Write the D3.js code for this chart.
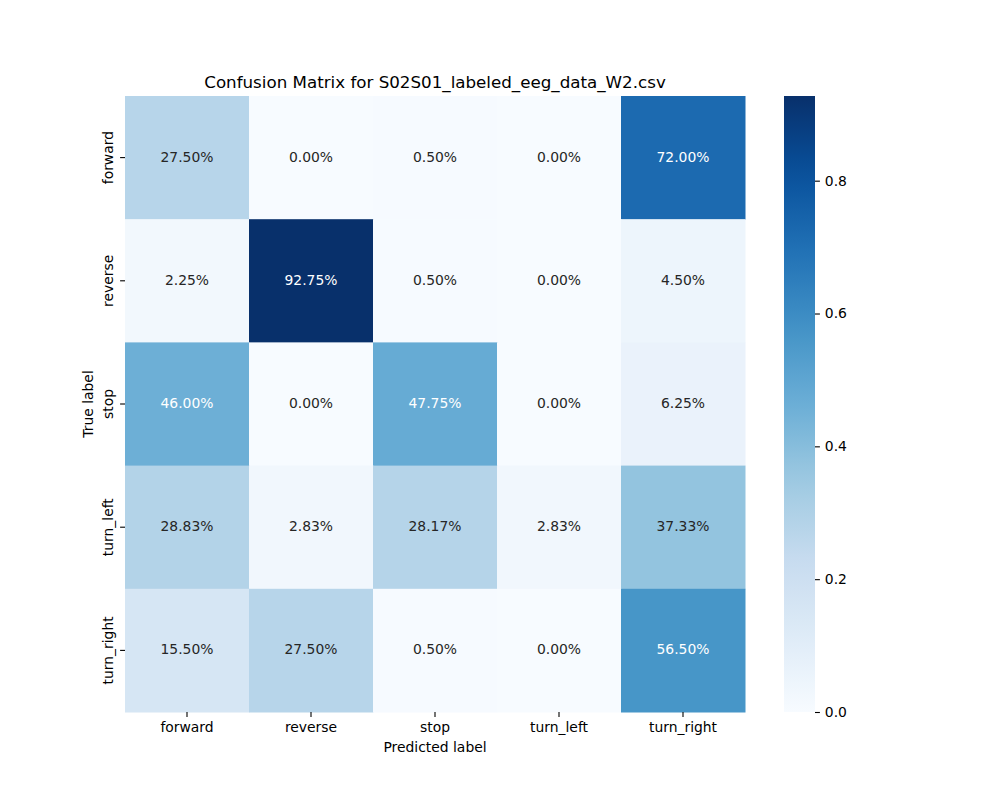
<!DOCTYPE html>
<html lang="en">
<head>
    <meta charset="UTF-8">
    <title>Confusion Matrix</title>
    <script src="https://d3js.org/d3.v7.min.js"></script>
    <style>
        body { margin: 0; background: white; }
        text { font-family: 'DejaVu Sans', sans-serif; fill: #000; }
    </style>
</head>
<body>
<script>
    const width = 1000;
    const height = 800;

    // categories (rows = true label, cols = predicted label)
    const labels = ['forward', 'reverse', 'stop', 'turn_left', 'turn_right'];

    // row-normalised values, percent
    const forwardRow   = [27.50, 0.00, 0.50, 0.00, 72.00];
    const reverseRow   = [2.25, 92.75, 0.50, 0.00, 4.50];
    const stopRow      = [46.00, 0.00, 47.75, 0.00, 6.25];
    const turnLeftRow  = [28.83, 2.83, 28.17, 2.83, 37.33];
    const turnRightRow = [15.50, 27.50, 0.50, 0.00, 56.50];
    const rows = [forwardRow, reverseRow, stopRow, turnLeftRow, turnRightRow];

    const cbarTicks = [0.0, 0.2, 0.4, 0.6, 0.8];
    const title = 'Confusion Matrix for S02S01_labeled_eeg_data_W2.csv';

    const cells = [];
    rows.forEach((r, i) => r.forEach((v, j) => cells.push({row: labels[i], col: labels[j], v: v / 100})));
    const vmax = d3.max(cells, d => d.v);

    // matplotlib "Blues"
    const blues = ['#f7fbff', '#deebf7', '#c6dbef', '#9ecae1', '#6baed6', '#4292c6', '#2171b5', '#08519c', '#08306b'];
    const color = d3.scaleLinear()
        .domain(blues.map((c, i) => i / (blues.length - 1) * vmax))
        .range(blues)
        .interpolate(d3.interpolateRgb)
        .clamp(true);

    const pL = 125, pR = 745, pT = 96, pB = 712;
    const x = d3.scaleBand().domain(labels).range([pL, pR]);
    const y = d3.scaleBand().domain(labels).range([pT, pB]);

    function luminance(c) {
        const rgb = d3.rgb(c);
        const f = u => { u /= 255; return u <= 0.03928 ? u / 12.92 : Math.pow((u + 0.055) / 1.055, 2.4); };
        return 0.2126 * f(rgb.r) + 0.7152 * f(rgb.g) + 0.0722 * f(rgb.b);
    }

    const svg = d3.select('body').append('svg').attr('width', width).attr('height', height);

    svg.append('g').selectAll('rect')
        .data(cells)
        .join('rect')
        .attr('x', d => x(d.col))
        .attr('y', d => y(d.row))
        .attr('width', x.bandwidth() + 0.5)
        .attr('height', y.bandwidth() + 0.5)
        .attr('fill', d => color(d.v));

    svg.append('g').selectAll('text')
        .data(cells)
        .join('text')
        .attr('x', d => x(d.col) + x.bandwidth() / 2)
        .attr('y', d => y(d.row) + y.bandwidth() / 2 - 1)
        .attr('text-anchor', 'middle')
        .attr('dominant-baseline', 'central')
        .style('font-size', '13.9px')
        .style('fill', d => luminance(color(d.v)) > 0.408 ? '#262626' : '#ffffff')
        .text(d => (d.v * 100).toFixed(2) + '%');

    // axes
    const xAxis = svg.append('g')
        .attr('transform', `translate(0,${pB})`)
        .call(d3.axisBottom(x).tickSize(4.9).tickPadding(4.9));
    const yAxis = svg.append('g')
        .attr('transform', `translate(${pL},0)`)
        .call(d3.axisLeft(y).tickSize(4.9).tickPadding(4.9));
    [xAxis, yAxis].forEach(a => {
        a.select('.domain').remove();
        a.selectAll('text').style('font-size', '13.9px').style('font-family', "'DejaVu Sans', sans-serif").attr('fill', '#000');
        a.selectAll('line').attr('stroke', '#000').attr('stroke-width', 1.1);
    });
    yAxis.selectAll('.tick text')
        .attr('x', null).attr('dy', null)
        .attr('text-anchor', 'middle')
        .attr('dominant-baseline', 'central')
        .attr('transform', 'translate(-17,0) rotate(-90)');

    svg.append('text')
        .attr('x', (pL + pR) / 2).attr('y', 752)
        .attr('text-anchor', 'middle')
        .style('font-size', '13.9px')
        .text('Predicted label');
    svg.append('text')
        .attr('transform', `translate(93,${(pT + pB) / 2}) rotate(-90)`)
        .attr('text-anchor', 'middle')
        .style('font-size', '13.9px')
        .text('True label');
    svg.append('text')
        .attr('x', (pL + pR) / 2).attr('y', 88)
        .attr('text-anchor', 'middle')
        .style('font-size', '16.7px')
        .text(title);

    // colorbar
    const cbX = 784, cbW = 31;
    const cy = d3.scaleLinear().domain([0, vmax]).range([pB, pT]);
    const defs = svg.append('defs');
    const grad = defs.append('linearGradient').attr('id', 'cbar')
        .attr('x1', 0).attr('y1', 1).attr('x2', 0).attr('y2', 0);
    d3.range(0, 1.0001, 0.05).forEach(t => {
        grad.append('stop').attr('offset', t).attr('stop-color', color(t * vmax));
    });
    svg.append('rect')
        .attr('x', cbX).attr('y', pT)
        .attr('width', cbW).attr('height', pB - pT)
        .attr('fill', 'url(#cbar)');
    const cAxis = svg.append('g')
        .attr('transform', `translate(${cbX + cbW},0)`)
        .call(d3.axisRight(cy).tickValues(cbarTicks).tickFormat(d3.format('.1f')).tickSize(4.9).tickPadding(4.9));
    cAxis.select('.domain').remove();
    cAxis.selectAll('text').style('font-size', '13.9px').style('font-family', "'DejaVu Sans', sans-serif").attr('fill', '#000');
    cAxis.selectAll('line').attr('stroke', '#000').attr('stroke-width', 1.1);
</script>
</body>
</html>
